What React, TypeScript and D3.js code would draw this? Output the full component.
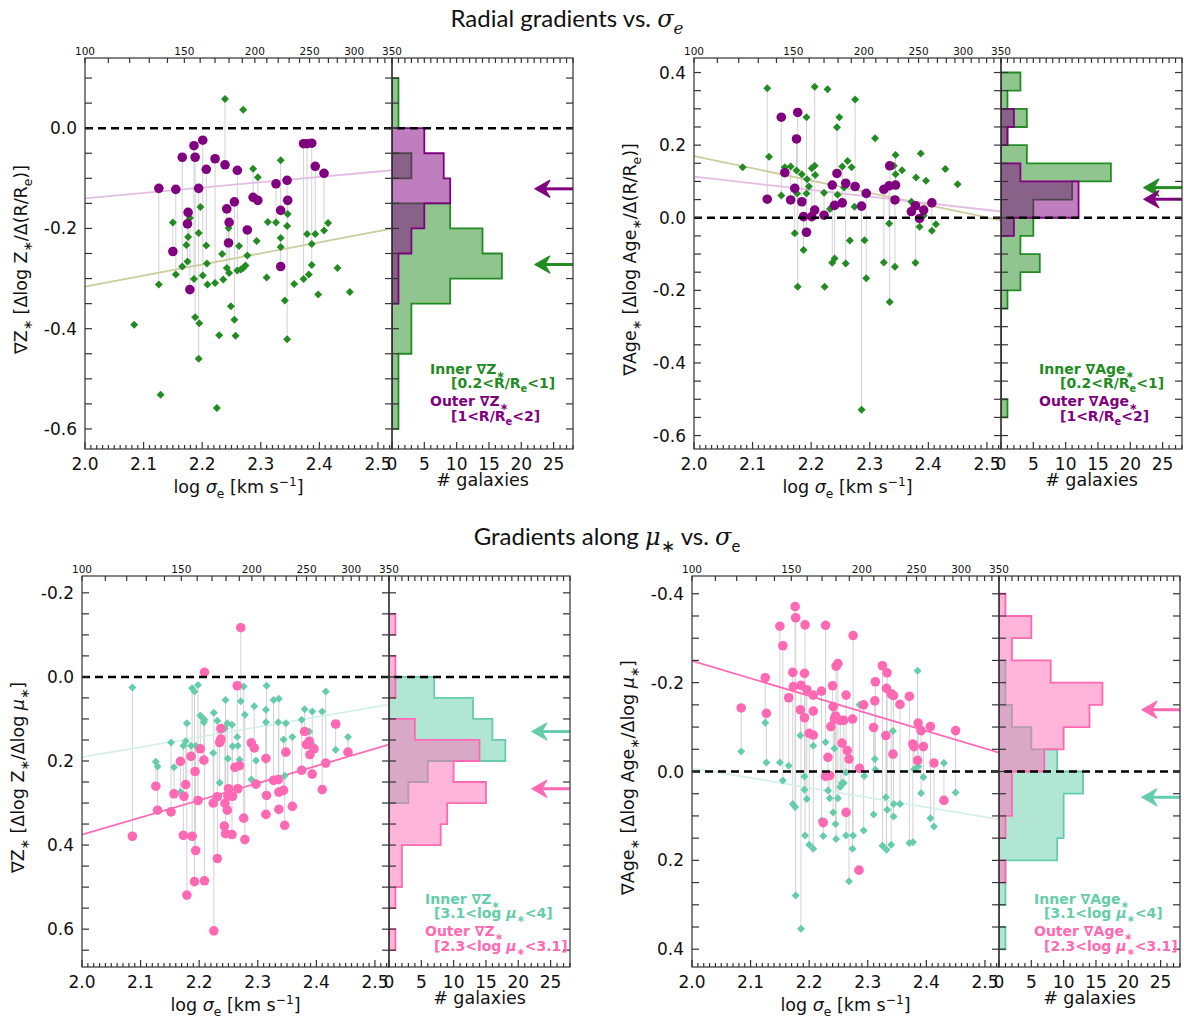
import React, { useEffect, useRef } from 'react'
import * as d3 from 'd3'

const W = 1184
const H = 1018

const SCATTER_W = 307
const HIST_W = 181
const PANEL_H = 391

const SIGMA_DOMAIN = [2.0, 2.524]
const COUNT_DOMAIN = [0, 28]
const BIN = 0.05

const GREEN = '#228b22'
const PURPLE = '#800080'
const TEAL = '#66cdaa'
const PINK = '#ff69b4'

// galaxies: [log sigma_e, inner gradient, outer gradient] (null = not measured)
type Galaxy = [number, number | null, number | null]

const zRadial: Galaxy[] = [
  [2.084, -0.392, null], [2.126, -0.312, -0.120], [2.129, -0.532, null], [2.150, -0.188, -0.246],
  [2.155, -0.292, -0.122], [2.166, -0.276, -0.058], [2.173, -0.233, null], [2.175, -0.266, -0.191],
  [2.176, -0.217, -0.168], [2.179, -0.179, -0.322], [2.186, -0.301, -0.035], [2.188, -0.377, -0.058],
  [2.195, -0.389, null], [2.194, -0.209, null], [2.194, -0.460, -0.120], [2.197, -0.157, null],
  [2.201, -0.294, -0.024], [2.207, -0.234, -0.082], [2.208, -0.270, null], [2.209, -0.312, null],
  [2.222, -0.309, -0.061], [2.229, -0.413, null], [2.225, -0.558, null], [2.234, -0.251, null],
  [2.236, -0.302, null], [2.239, 0.058, -0.073], [2.242, -0.279, -0.161], [2.245, -0.199, -0.229],
  [2.246, -0.289, -0.188], [2.249, -0.355, null], [2.255, -0.382, -0.147], [2.257, -0.414, null],
  [2.260, -0.284, -0.084], [2.263, -0.235, null], [2.266, -0.282, null], [2.270, 0.037, null],
  [2.270, -0.279, null], [2.274, -0.274, null], [2.277, -0.254, -0.203], [2.287, -0.081, -0.138],
  [2.295, -0.098, -0.144], [2.293, -0.225, null], [2.310, -0.298, null], [2.312, -0.187, null],
  [2.326, -0.188, -0.111], [2.334, -0.064, -0.164], [2.334, -0.219, -0.276], [2.334, -0.237, null],
  [2.341, -0.344, null], [2.345, -0.195, null], [2.346, -0.171, -0.144], [2.345, -0.421, -0.104],
  [2.357, -0.311, null], [2.373, -0.301, -0.031], [2.379, -0.211, -0.031], [2.382, -0.292, null],
  [2.387, -0.231, null], [2.387, -0.273, -0.030], [2.393, -0.211, -0.076], [2.398, -0.332, null],
  [2.408, -0.204, -0.090], [2.415, -0.189, null], [2.431, -0.279, null], [2.452, -0.327, null],
]

const ageRadial: Galaxy[] = [
  [2.083, 0.139, null], [2.125, 0.357, 0.051], [2.128, 0.168, null], [2.149, 0.061, 0.277],
  [2.155, 0.139, 0.124], [2.165, 0.141, 0.049], [2.172, -0.043, 0.081], [2.175, 0.130, 0.217],
  [2.176, 0.067, null], [2.177, -0.190, 0.290], [2.184, 0.120, 0.044], [2.187, -0.089, 0.003],
  [2.192, 0.277, -0.040], [2.192, 0.067, null], [2.193, 0.106, null], [2.196, 0.086, null],
  [2.201, 0.136, 0.003], [2.206, 0.361, 0.021], [2.206, 0.143, null], [2.207, 0.118, null],
  [2.222, 0.069, 0.007], [2.223, -0.190, null], [2.228, 0.354, null], [2.232, 0.024, null],
  [2.235, 0.029, null], [2.236, -0.124, 0.090], [2.240, -0.112, 0.034], [2.244, 0.249, 0.122],
  [2.245, 0.063, null], [2.248, 0.277, null], [2.253, 0.141, 0.041], [2.256, 0.083, null],
  [2.259, -0.126, 0.095], [2.262, 0.156, null], [2.266, -0.063, null], [2.269, 0.139, null],
  [2.274, 0.030, null], [2.275, 0.326, 0.086], [2.286, -0.529, 0.032], [2.291, -0.062, null],
  [2.294, -0.167, 0.067], [2.309, 0.219, null], [2.324, -0.123, 0.078], [2.333, -0.016, 0.088],
  [2.334, -0.232, 0.143], [2.341, 0.143, null], [2.344, 0.173, 0.090], [2.344, 0.120, null],
  [2.343, -0.135, 0.049], [2.355, 0.131, null], [2.371, 0.044, 0.017], [2.378, -0.124, 0.033],
  [2.379, 0.111, null], [2.385, -0.025, -0.002], [2.387, 0.177, null], [2.392, 0.006, 0.021],
  [2.396, 0.102, null], [2.406, -0.036, 0.041], [2.413, -0.018, null], [2.429, 0.134, null],
  [2.450, 0.092, null],
]

const zMu: Galaxy[] = [
  [2.086, 0.025, 0.379], [2.126, 0.202, 0.260], [2.129, 0.213, 0.317], [2.152, 0.156, 0.321],
  [2.157, 0.215, 0.278], [2.168, 0.274, 0.201], [2.173, 0.164, 0.377], [2.174, null, 0.284],
  [2.177, 0.153, 0.256], [2.179, 0.110, 0.519], [2.186, 0.164, 0.189], [2.188, 0.027, 0.379],
  [2.194, 0.164, 0.413], [2.193, null, 0.225], [2.192, 0.035, 0.487], [2.198, 0.019, 0.294],
  [2.202, 0.092, 0.171], [2.206, 0.098, null], [2.208, 0.108, 0.198], [2.209, 0.102, 0.485],
  [2.209, null, -0.011], [2.224, 0.181, 0.300], [2.225, 0.085, 0.604], [2.231, 0.104, 0.432],
  [2.231, null, 0.285], [2.235, 0.252, 0.156], [2.237, 0.156, 0.123], [2.237, null, 0.148],
  [2.244, 0.122, 0.301], [2.245, 0.055, 0.373], [2.243, null, 0.355], [2.248, 0.110, 0.317],
  [2.249, 0.194, 0.284], [2.250, null, 0.266], [2.256, 0.114, 0.375], [2.257, 0.165, 0.284],
  [2.261, null, 0.215], [2.265, 0.143, 0.021], [2.266, 0.164, 0.266], [2.269, 0.197, 0.211],
  [2.271, 0.058, -0.117], [2.276, 0.023, 0.336], [2.278, 0.090, 0.387], [2.289, 0.244, 0.157],
  [2.294, 0.070, 0.169], [2.297, 0.199, 0.255], [2.314, 0.078, 0.194], [2.315, 0.021, 0.282],
  [2.314, 0.108, 0.327], [2.327, 0.055, 0.246], [2.336, 0.052, 0.274], [2.335, 0.108, 0.244],
  [2.336, null, 0.315], [2.344, 0.149, 0.270], [2.348, 0.110, 0.179], [2.346, 0.235, 0.353],
  [2.359, 0.143, 0.308], [2.375, 0.102, 0.222], [2.380, 0.077, 0.130], [2.388, 0.130, 0.153],
  [2.393, 0.082, 0.231], [2.389, 0.165, 0.185], [2.396, 0.165, 0.171], [2.383, null, 0.161],
  [2.410, 0.082, 0.268], [2.416, 0.035, 0.205], [2.433, 0.173, 0.112], [2.454, 0.143, 0.179],
]

const ageMu: Galaxy[] = [
  [2.084, -0.045, -0.143], [2.125, -0.110, -0.211], [2.127, -0.020, -0.131], [2.150, -0.020, -0.327],
  [2.155, 0.020, -0.283], [2.165, -0.013, -0.166], [2.172, 0.073, -0.223], [2.173, null, -0.191],
  [2.176, 0.080, -0.371], [2.177, 0.279, -0.346], [2.185, -0.081, -0.139], [2.186, 0.354, -0.194],
  [2.192, 0.011, -0.221], [2.193, 0.144, -0.330], [2.192, 0.041, -0.121], [2.196, 0.062, -0.184],
  [2.200, 0.165, -0.086], [2.207, 0.174, -0.082], [2.207, -0.058, -0.136], [2.207, null, -0.172],
  [2.221, 0.110, -0.181], [2.228, -0.066, -0.329], [2.224, 0.145, 0.115], [2.228, null, 0.011],
  [2.232, 0.043, -0.032], [2.235, 0.060, 0.009], [2.237, null, -0.101], [2.240, -0.110, -0.193],
  [2.241, 0.092, -0.146], [2.243, -0.052, -0.118], [2.245, 0.118, -0.125], [2.246, 0.152, -0.237],
  [2.249, 0.060, -0.243], [2.253, 0.035, -0.115], [2.256, 0.026, -0.064], [2.259, 0.026, -0.115],
  [2.263, 0.002, -0.172], [2.263, 0.144, 0.092], [2.265, null, -0.047], [2.268, 0.247, -0.028],
  [2.274, 0.174, -0.118], [2.275, 0.144, -0.306], [2.286, -0.150, -0.007], [2.285, null, 0.222],
  [2.293, 0.133, -0.150], [2.294, 0.010, null], [2.310, 0.097, -0.099], [2.312, -0.028, -0.159],
  [2.313, -0.004, -0.202], [2.325, 0.167, -0.238], [2.331, 0.058, -0.081], [2.332, 0.176, -0.187],
  [2.333, 0.086, -0.222], [2.340, 0.165, -0.175], [2.344, 0.101, -0.171], [2.343, -0.091, -0.039],
  [2.344, 0.073, null], [2.355, 0.073, -0.151], [2.371, 0.161, -0.169], [2.377, 0.159, -0.062],
  [2.379, -0.005, -0.056], [2.385, -0.227, -0.025], [2.386, -0.011, -0.109], [2.391, 0.049, -0.092],
  [2.395, 0.013, -0.056], [2.407, 0.105, -0.101], [2.413, 0.124, -0.019], [2.430, -0.019, 0.065],
  [2.450, 0.047, -0.092],
]

// histogram counts per 0.05 bin, from the lowest bin edge upward
const zRadialStart = -0.6
const zRadialInnerCounts = [1, 1, 1, 3, 3, 9, 17, 14, 9, 0, 3, 0, 1, 1]
const zRadialOuterCounts = [0, 0, 0, 0, 0, 1, 1, 3, 5, 9, 8, 5, 0, 0]

const ageRadialStart = -0.55
const ageRadialInnerCounts = [1, 0, 0, 0, 0, 0, 1, 3, 6, 3, 5, 5, 11, 17, 4, 1, 4, 1, 3]
const ageRadialOuterCounts = [0, 0, 0, 0, 0, 0, 0, 0, 0, 0, 2, 12, 12, 3, 0, 1, 2, 0, 0]

const zMuStart = -0.15
const zMuInnerCounts = [0, 0, 0, 7, 13, 16, 18, 6, 3, 0, 0, 0, 0, 0, 0, 0]
const zMuOuterCounts = [1, 0, 1, 1, 0, 4, 14, 10, 15, 9, 8, 2, 2, 1, 0, 1]

const ageMuStart = -0.4
const ageMuInnerCounts = [0, 0, 0, 1, 1, 2, 5, 9, 13, 10, 10, 9, 1, 1, 0, 1]
const ageMuOuterCounts = [1, 5, 2, 8, 16, 14, 10, 7, 2, 2, 1, 0, 1, 0, 0, 0]

// medians marked by arrows: [inner, outer]
const zRadialMedians = [-0.272, -0.121]
const ageRadialMedians = [0.083, 0.051]
const zMuMedians = [0.130, 0.266]
const ageMuMedians = [0.058, -0.139]

// linear fits: [value at log sigma_e = 2, slope], [inner, outer]
const zRadialFits = [[-0.316, 0.221], [-0.14, 0.107]]
const ageRadialFits = [[0.170, -0.338], [0.113, -0.183]]
const zMuFits = [[0.191, -0.239], [0.375, -0.408]]
const ageMuFits = [[-0.0075, 0.22], [-0.249, 0.394]]

type Piece = [string, string]

const sub = (t: string): Piece => [t, 'sub']

const radialLegend: Piece[][] = [
  [['[0.2<R/R', ''], sub('e'), ['<1]', '']],
  [['[1<R/R', ''], sub('e'), ['<2]', '']],
]
const muLegend: Piece[][] = [
  [['[3.1<log ', ''], ['μ', 'it'], sub('∗'), ['<4]', '']],
  [['[2.3<log ', ''], ['μ', 'it'], sub('∗'), ['<3.1]', '']],
]

const panels = [
  {
    id: 'zr', left: 85, top: 58, yDomain: [-0.64, 0.14], inverted: false,
    galaxies: zRadial, start: zRadialStart, counts: [zRadialInnerCounts, zRadialOuterCounts],
    medians: zRadialMedians, fits: zRadialFits, colors: [GREEN, PURPLE], fitColors: ['#cccc9c', '#e4bde4'],
    yLabel: [['∇Z', ''], sub('∗'), [' [Δlog Z', ''], sub('∗'), ['/Δ(R/R', ''], sub('e'), [')]', '']],
    name: 'Z', ranges: radialLegend, legendX: [38, 59], legendY: [311, 325, 343, 358],
  },
  {
    id: 'ar', left: 694, top: 58, yDomain: [-0.637, 0.44], inverted: false,
    galaxies: ageRadial, start: ageRadialStart, counts: [ageRadialInnerCounts, ageRadialOuterCounts],
    medians: ageRadialMedians, fits: ageRadialFits, colors: [GREEN, PURPLE], fitColors: ['#cccc9c', '#e4bde4'],
    yLabel: [['∇Age', ''], sub('∗'), [' [Δlog Age', ''], sub('∗'), ['/Δ(R/R', ''], sub('e'), [')]', '']],
    name: 'Age', ranges: radialLegend, legendX: [38, 59], legendY: [311, 325, 343, 358],
  },
  {
    id: 'zm', left: 82, top: 576, yDomain: [-0.24, 0.69], inverted: true,
    galaxies: zMu, start: zMuStart, counts: [zMuInnerCounts, zMuOuterCounts],
    medians: zMuMedians, fits: zMuFits, colors: [TEAL, PINK], fitColors: ['#d4f1e7', PINK],
    yLabel: [['∇Z', ''], sub('∗'), [' [Δlog Z', ''], sub('∗'), ['/Δlog ', ''], ['μ', 'it'], sub('∗'), [']', '']],
    name: 'Z', ranges: muLegend, legendX: [36, 45], legendY: [323, 337, 355, 370],
  },
  {
    id: 'am', left: 692, top: 576, yDomain: [-0.44, 0.44], inverted: true,
    galaxies: ageMu, start: ageMuStart, counts: [ageMuInnerCounts, ageMuOuterCounts],
    medians: ageMuMedians, fits: ageMuFits, colors: [TEAL, PINK], fitColors: ['#d4f1e7', PINK],
    yLabel: [['∇Age', ''], sub('∗'), [' [Δlog Age', ''], sub('∗'), ['/Δlog ', ''], ['μ', 'it'], sub('∗'), [']', '']],
    name: 'Age', ranges: muLegend, legendX: [35, 45], legendY: [323, 337, 355, 370],
  },
]

const FONT = "'DejaVu Sans', sans-serif"

// appends pieces as tspans, with sub/superscripts
const rich = (text, pieces: Piece[], size: number) => {
  let shift = 0
  pieces.forEach(([t, kind]) => {
    const target = kind === 'sub' || kind === 'msub' ? size * 0.28 : kind === 'sup' ? -size * 0.42 : 0
    const ts = text.append('tspan').text(t).attr('dy', target - shift)
    if (kind === 'sub' || kind === 'sup') ts.attr('font-size', size * 0.7)
    if (kind === 'it') ts.attr('font-style', 'italic')
    if (kind === 'math') ts.attr('font-style', 'italic').attr('font-family', "'DejaVu Serif', serif")
    if (kind === 'msub') ts.attr('font-size', size * 0.7).attr('font-style', 'italic').attr('font-family', "'DejaVu Serif', serif")
    shift = target
  })
}

const fmt = (v: number) => {
  const s = v.toFixed(1)
  return s === '-0.0' ? '0.0' : s
}

const drawPanel = (svg, p) => {
  const bottom = p.top + PANEL_H
  const right = p.left + SCATTER_W
  const hRight = right + HIST_W
  const x = d3.scaleLinear().domain(SIGMA_DOMAIN).range([p.left, right])
  const xTop = d3.scaleLog().domain([100, 350]).range([p.left, right])
  const c = d3.scaleLinear().domain(COUNT_DOMAIN).range([right, hRight])
  const y = d3.scaleLinear().domain(p.yDomain).range(p.inverted ? [p.top, bottom] : [bottom, p.top])

  const g = svg.append('g').attr('class', `panel-${p.id}`)
  const defs = g.append('defs')
  defs.append('clipPath').attr('id', `sc-${p.id}`)
    .append('rect').attr('x', p.left).attr('y', p.top).attr('width', SCATTER_W).attr('height', PANEL_H)
  defs.append('clipPath').attr('id', `hc-${p.id}`)
    .append('rect').attr('x', right).attr('y', p.top).attr('width', HIST_W).attr('height', PANEL_H)

  const plot = g.append('g').attr('clip-path', `url(#sc-${p.id})`)
  const hist = g.append('g').attr('clip-path', `url(#hc-${p.id})`)

  // histograms (inner first, outer on top)
  const line = d3.line().x((d) => c(d[0])).y((d) => y(d[1]))
  p.counts.forEach((counts, i) => {
    const pts = [[0, p.start]]
    counts.forEach((n, k) => {
      pts.push([n, p.start + k * BIN], [n, p.start + (k + 1) * BIN])
    })
    pts.push([0, p.start + counts.length * BIN])
    hist.append('path')
      .attr('d', line(pts) + 'Z')
      .attr('fill', p.colors[i])
      .attr('fill-opacity', 0.5)
      .attr('stroke', p.colors[i])
      .attr('stroke-width', 1.8)
  })

  // arrows at the medians
  p.medians.forEach((m, i) => {
    const tx = c(22.1)
    const yy = y(m)
    hist.append('line')
      .attr('x1', tx + 9).attr('x2', hRight).attr('y1', yy).attr('y2', yy)
      .attr('stroke', p.colors[i]).attr('stroke-width', 3)
    hist.append('path')
      .attr('d', `M${tx},${yy}L${tx + 15},${yy - 8.5}L${tx + 10},${yy}L${tx + 15},${yy + 8.5}Z`)
      .attr('fill', p.colors[i]).attr('stroke', p.colors[i]).attr('stroke-width', 1.2)
      .attr('stroke-linejoin', 'round')
  })

  // links between inner and outer values of the same galaxy
  plot.selectAll('line.link')
    .data(p.galaxies.filter((d) => d[1] !== null && d[2] !== null))
    .join('line')
    .attr('class', 'link')
    .attr('x1', (d) => x(d[0])).attr('x2', (d) => x(d[0]))
    .attr('y1', (d) => y(d[1])).attr('y2', (d) => y(d[2]))
    .attr('stroke', '#d2d2d2').attr('stroke-width', 1)

  // fit lines
  p.fits.forEach(([a, b], i) => {
    plot.append('line')
      .attr('x1', x(SIGMA_DOMAIN[0])).attr('y1', y(a))
      .attr('x2', x(SIGMA_DOMAIN[1])).attr('y2', y(a + b * (SIGMA_DOMAIN[1] - SIGMA_DOMAIN[0])))
      .attr('stroke', p.fitColors[i]).attr('stroke-width', 1.8)
  })

  // zero line
  g.append('line')
    .attr('x1', p.left).attr('x2', hRight).attr('y1', y(0)).attr('y2', y(0))
    .attr('stroke', 'black').attr('stroke-width', 2.5).attr('stroke-dasharray', '8,5')

  // markers
  const diamond = d3.symbol(d3.symbolSquare, 32)()
  plot.selectAll('path.inner')
    .data(p.galaxies.filter((d) => d[1] !== null))
    .join('path')
    .attr('class', 'inner')
    .attr('d', diamond)
    .attr('transform', (d) => `translate(${x(d[0])},${y(d[1])}) rotate(45)`)
    .attr('fill', p.colors[0])
  plot.selectAll('circle.outer')
    .data(p.galaxies.filter((d) => d[2] !== null))
    .join('circle')
    .attr('class', 'outer')
    .attr('cx', (d) => x(d[0])).attr('cy', (d) => y(d[2])).attr('r', 4.8)
    .attr('fill', p.colors[1])

  // frames
  const axis = g.append('g').attr('stroke', '#333').attr('stroke-width', 1.2)
  axis.append('rect').attr('x', p.left).attr('y', p.top).attr('width', SCATTER_W).attr('height', PANEL_H).attr('fill', 'none')
  axis.append('rect').attr('x', right).attr('y', p.top).attr('width', HIST_W).attr('height', PANEL_H).attr('fill', 'none')

  // y ticks every 0.05
  const yTicks = d3.range(Math.ceil(p.yDomain[0] * 20 - 1e-9), Math.floor(p.yDomain[1] * 20 + 1e-9) + 1)
  const tickLines = [] as number[][]
  yTicks.forEach((k) => {
    const yy = y(k / 20)
    tickLines.push([p.left, yy, p.left + 7, yy], [right - 7, yy, right + 7, yy], [hRight - 7, yy, hRight, yy])
  })
  // bottom sigma ticks
  d3.range(200, Math.floor(SIGMA_DOMAIN[1] * 100) + 1).forEach((k) => {
    const xx = x(k / 100)
    tickLines.push([xx, bottom, xx, bottom - (k % 10 === 0 ? 7 : 4)])
  })
  // top sigma ticks (linear km/s on a log axis)
  d3.range(100, 351, 10).forEach((v) => {
    const xx = xTop(v)
    tickLines.push([xx, p.top, xx, p.top + 5])
  })
  // histogram count ticks
  d3.range(0, COUNT_DOMAIN[1] + 1).forEach((n) => {
    const xx = c(n)
    tickLines.push([xx, bottom, xx, bottom - (n % 5 === 0 ? 7 : 4)], [xx, p.top, xx, p.top + 5])
  })
  axis.selectAll('line.tick').data(tickLines).join('line')
    .attr('class', 'tick')
    .attr('x1', (d) => d[0]).attr('y1', (d) => d[1]).attr('x2', (d) => d[2]).attr('y2', (d) => d[3])

  const labels = g.append('g').attr('font-family', FONT).attr('fill', '#111')
  // y tick labels
  labels.selectAll('text.ylab').data(yTicks.filter((k) => k % 4 === 0)).join('text')
    .attr('class', 'ylab')
    .attr('x', p.left - 8).attr('y', (k) => y(k / 20) + 6)
    .attr('text-anchor', 'end').attr('font-size', 17)
    .text((k) => fmt(k / 20))
  // x tick labels
  labels.selectAll('text.xlab').data(d3.range(20, 26)).join('text')
    .attr('class', 'xlab')
    .attr('x', (k) => x(k / 10)).attr('y', bottom + 21)
    .attr('text-anchor', 'middle').attr('font-size', 17)
    .text((k) => (k / 10).toFixed(1))
  labels.selectAll('text.clab').data(d3.range(0, 26, 5)).join('text')
    .attr('class', 'clab')
    .attr('x', (n) => c(n)).attr('y', bottom + 21)
    .attr('text-anchor', 'middle').attr('font-size', 17)
    .text((n) => String(n))
  labels.selectAll('text.tlab').data([100, 150, 200, 250, 300, 350]).join('text')
    .attr('class', 'tlab')
    .attr('x', (v) => xTop(v)).attr('y', p.top - 3)
    .attr('text-anchor', 'middle').attr('font-size', 10.5)
    .text((v) => String(v))

  // axis titles
  const xl = labels.append('text')
    .attr('x', (p.left + right) / 2).attr('y', bottom + 44)
    .attr('text-anchor', 'middle').attr('font-size', 17.5)
  rich(xl, [['log ', ''], ['σ', 'it'], sub('e'), [' [km s', ''], ['−1', 'sup'], [']', '']], 17.5)
  labels.append('text')
    .attr('x', (right + hRight) / 2).attr('y', bottom + 37)
    .attr('text-anchor', 'middle').attr('font-size', 17.5)
    .text('# galaxies')
  const cy = (p.top + bottom) / 2 + 6
  const yl = labels.append('text')
    .attr('transform', `translate(${p.left - 58},${cy}) rotate(-90)`)
    .attr('text-anchor', 'middle').attr('font-size', 17.5)
  rich(yl, p.yLabel, 17.5)

  // legend
  const legend = g.append('g').attr('font-family', FONT).attr('font-weight', 'bold').attr('font-size', 14)
  const lines: Piece[][] = [
    [[`Inner ∇${p.name}`, ''], sub('∗')],
    p.ranges[0],
    [[`Outer ∇${p.name}`, ''], sub('∗')],
    p.ranges[1],
  ]
  lines.forEach((pieces, i) => {
    const t = legend.append('text')
      .attr('x', right + p.legendX[i % 2]).attr('y', p.top + p.legendY[i] + 5)
      .attr('fill', p.colors[i < 2 ? 0 : 1])
    rich(t, pieces, 14)
  })
}

const draw = (node) => {
  const svg = d3.select(node)
  svg.selectAll('*').remove()
  svg.append('rect').attr('width', W).attr('height', H).attr('fill', 'white')

  const titleFont = 'Lato, sans-serif'
  const t1 = svg.append('text').attr('x', 567).attr('y', 27).attr('text-anchor', 'middle')
    .attr('font-family', titleFont).attr('font-size', 24).attr('fill', '#111')
  rich(t1, [['Radial gradients vs. ', ''], ['σ', 'math'], ['e', 'msub']], 24)
  const t2 = svg.append('text').attr('x', 607).attr('y', 545).attr('text-anchor', 'middle')
    .attr('font-family', titleFont).attr('font-size', 24).attr('fill', '#111')
  rich(t2, [['Gradients along ', ''], ['μ', 'math'], ['∗', 'sub'], ['  vs. ', ''], ['σ', 'math'], ['e', 'sub']], 24)

  panels.forEach((p) => drawPanel(svg, p))
}

export default function App() {
  const ref = useRef<SVGSVGElement>(null)

  useEffect(() => {
    draw(ref.current)
  }, [])

  return (
    <svg ref={ref} width={W} height={H} style={{ position: 'absolute', left: 0, top: 0 }}></svg>
  )
}
